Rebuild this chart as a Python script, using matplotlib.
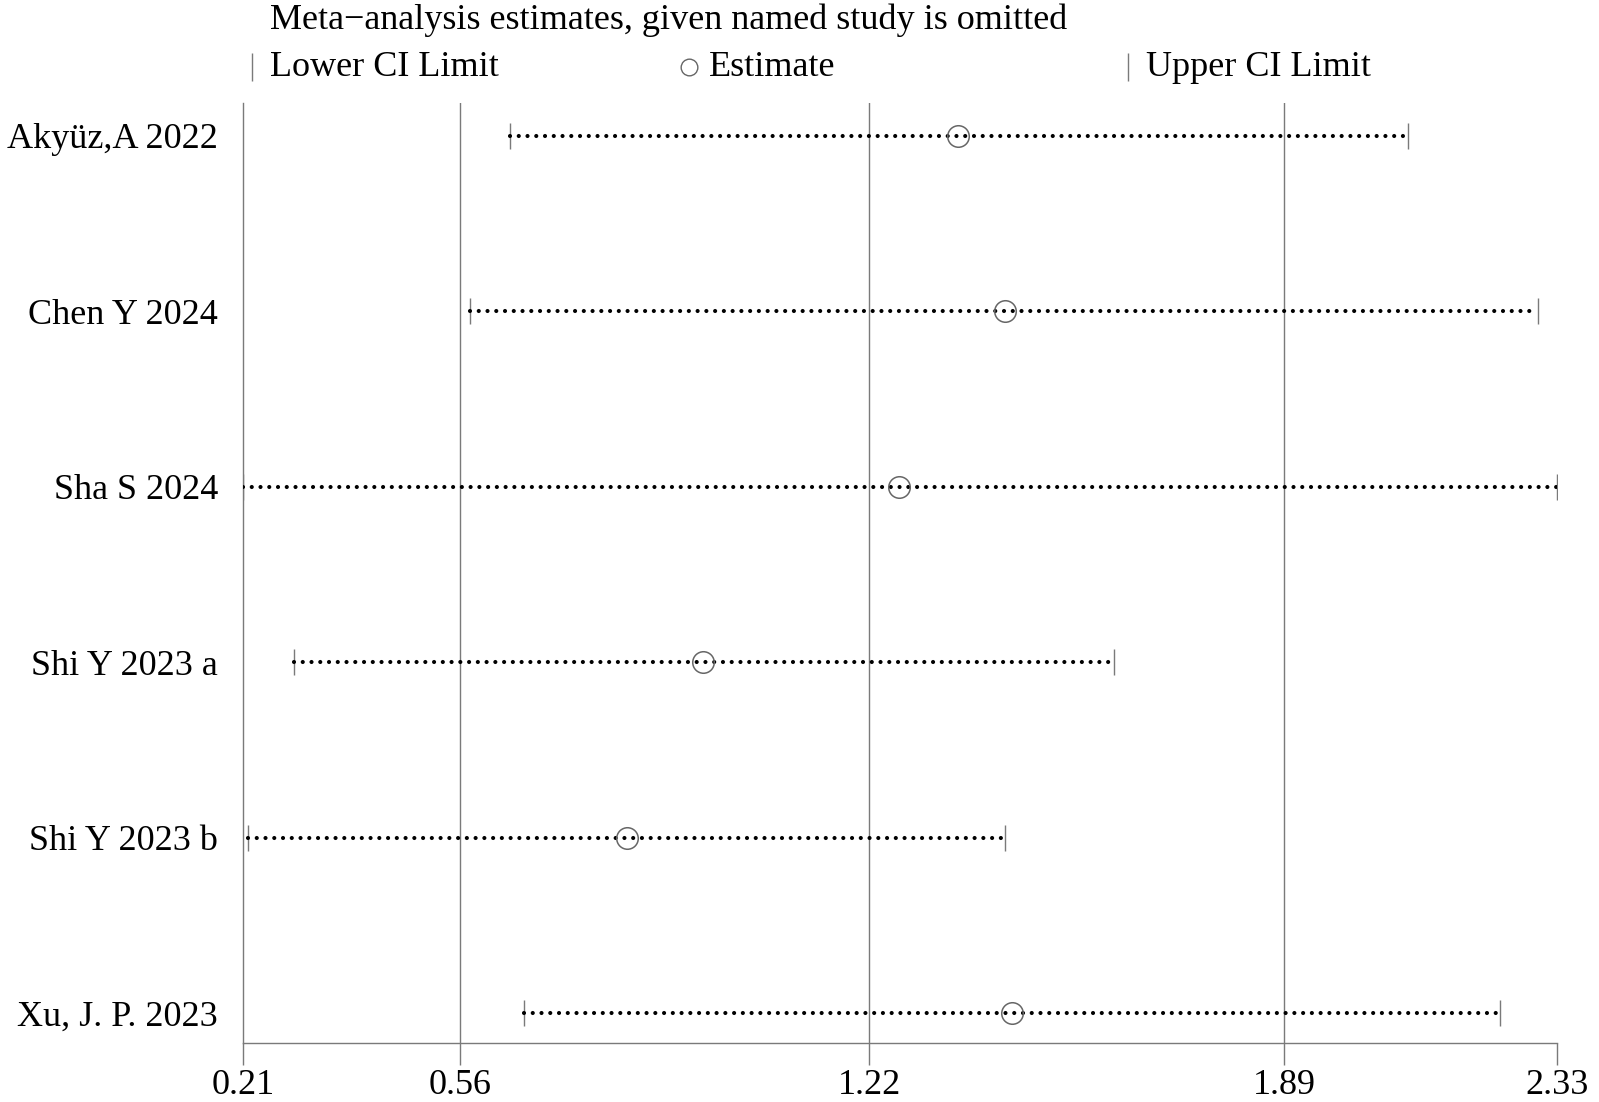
import matplotlib
matplotlib.use("Agg")
import matplotlib.pyplot as plt
from matplotlib.lines import Line2D

studies = ["Akyüz,A 2022", "Chen Y 2024", "Sha S 2024", "Shi Y 2023 a", "Shi Y 2023 b", "Xu, J. P. 2023"]
estimate = [1.364, 1.440, 1.268, 0.952, 0.829, 1.451]
lower = [0.640, 0.577, 0.210, 0.292, 0.218, 0.663]
upper = [2.090, 2.300, 2.330, 1.616, 1.440, 2.238]
xticks = [0.21, 0.56, 1.22, 1.89, 2.33]
xticklabels = ["0.21", "0.56", "1.22", "1.89", "2.33"]
title = "Meta\u2212analysis estimates, given named study is omitted"
legend_labels = ["Lower CI Limit", "Estimate", "Upper CI Limit"]

plt.rcParams['font.family'] = ['Liberation Serif', 'DejaVu Serif']
FS = 26
GRAY = '#7a7a7a'

W, H = 1599, 1102
fig = plt.figure(figsize=(W / 100, H / 100), dpi=100)
ax = fig.add_axes([243 / W, 1 - 1043 / H, (1557 - 243) / W, (1043 - 103) / H])

ypos = list(range(1, len(studies) + 1))
ax.set_xlim(xticks[0], xticks[-1])
ax.set_ylim(6.171, 0.812)

for g in xticks[1:-1]:
    ax.axvline(g, color=GRAY, lw=1.0, zorder=1)

for y, lo, est, up in zip(ypos, lower, estimate, upper):
    ax.plot([lo, up], [y, y], color='black', lw=3.0,
            linestyle=(0, (0.001, 2.1)), dash_capstyle='round', zorder=3)
    ax.plot([lo, up], [y, y], linestyle='none', marker='|', markersize=19,
            markeredgewidth=1.0, color=GRAY, zorder=2)
    ax.plot([est], [y], linestyle='none', marker='o', markersize=15.5,
            markerfacecolor='none', markeredgecolor='#666666', markeredgewidth=1.1, zorder=4)

ax.set_yticks(ypos)
ax.set_yticklabels(studies, fontsize=FS)
ax.tick_params(axis='y', length=0, pad=18)
ax.set_xticks(xticks)
ax.set_xticklabels(xticklabels, fontsize=FS)
ax.tick_params(axis='x', length=16, width=1.0, color=GRAY, pad=3)

for s in ['top', 'right']:
    ax.spines[s].set_visible(False)
for s in ['left', 'bottom']:
    ax.spines[s].set_color(GRAY)
    ax.spines[s].set_linewidth(1.0)

# Title and legend row
fig.text(270 / W, 1 - 20 / H, title, fontsize=FS, va='center', ha='left')
ly = 1 - 67 / H
items = [(252, 'bar', legend_labels[0]), (689, 'circle', legend_labels[1]), (1128, 'bar', legend_labels[2])]
for xp, kind, lab in items:
    if kind == 'bar':
        fig.add_artist(Line2D([xp / W], [ly], transform=fig.transFigure, marker='|',
                              markersize=20, markeredgewidth=1.0, color=GRAY, linestyle='none'))
        tx = xp + 18
    else:
        fig.add_artist(Line2D([xp / W], [ly], transform=fig.transFigure, marker='o',
                              markersize=12, markerfacecolor='none', markeredgecolor='#666666',
                              markeredgewidth=1.0, linestyle='none'))
        tx = xp + 20
    fig.text(tx / W, ly, lab, fontsize=FS, va='center', ha='left')

fig.savefig("out.png", dpi=100, facecolor='white')
